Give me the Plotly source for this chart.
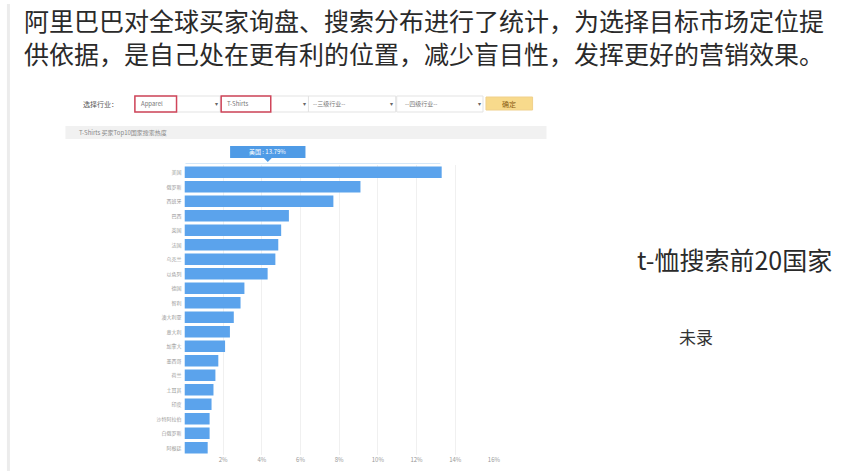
import plotly.graph_objects as go

W, H = 851, 471

countries = ["美国", "俄罗斯", "西班牙", "巴西", "英国", "法国", "乌克兰", "以色列", "德国", "智利",
             "澳大利亚", "意大利", "加拿大", "墨西哥", "荷兰", "土耳其", "印度", "沙特阿拉伯", "白俄罗斯", "阿根廷"]
shares = [13.3, 9.1, 7.7, 5.4, 5.0, 4.85, 4.7, 4.3, 3.1, 2.9,
          2.55, 2.35, 2.1, 1.75, 1.6, 1.5, 1.4, 1.3, 1.3, 1.2]
tick_vals = [2, 4, 6, 8, 10, 12, 14, 16]
tick_text = ["2%", "4%", "6%", "8%", "10%", "12%", "14%", "16%"]

title_lines = ["阿里巴巴对全球买家询盘、搜索分布进行了统计，为选择目标市场定位提",
               "供依据，是自己处在更有利的位置，减少盲目性，发挥更好的营销效果。"]
side_title = "t-恤搜索前20国家"
side_note = "未录"

FONT = "Noto Sans CJK SC, Noto Sans, sans-serif"


def px(x):
    return x / W


def py(y):
    return 1 - y / H


fig = go.Figure()
fig.add_trace(go.Bar(
    x=shares, y=countries, orientation="h",
    marker=dict(color="#5ba3ec", line=dict(width=0)),
    hoverinfo="x+y",
))

shapes = []
annotations = []

# left edge strip of the slide
shapes.append(dict(type="line", xref="paper", yref="paper", x0=px(8.5), x1=px(8.5), y0=0, y1=py(4),
                   line=dict(color="#ececec", width=3)))

# header text (two lines)
annotations.append(dict(text="<br>".join(title_lines), xref="paper", yref="paper", x=px(22), y=py(36.5),
                        xanchor="left", yanchor="middle", align="left", showarrow=False,
                        font=dict(family=FONT, size=25, color="#2a2a2a")))

# toolbar of the embedded screenshot
annotations.append(dict(text="选择行业：", xref="paper", yref="paper", x=px(82), y=py(104),
                        xanchor="left", yanchor="middle", showarrow=False,
                        font=dict(family=FONT, size=7, color="#555")))
boxes = [(136, 222), (223, 311), (311, 399), (400, 487)]
for x0, x1 in boxes:
    shapes.append(dict(type="rect", xref="paper", yref="paper", x0=px(x0), x1=px(x1), y0=py(112), y1=py(96),
                       line=dict(color="#e3e3e3", width=1), fillcolor="white"))
    annotations.append(dict(text="▾", xref="paper", yref="paper", x=px(x1 - 4), y=py(104),
                            xanchor="center", yanchor="middle", showarrow=False,
                            font=dict(family=FONT, size=6, color="#666")))
for x0, x1 in [(136, 178), (223, 273)]:
    shapes.append(dict(type="rect", xref="paper", yref="paper", x0=px(x0), x1=px(x1), y0=py(112), y1=py(96),
                       line=dict(color="#d0455a", width=1.5)))
for text, x in [("Apparel", 140), ("T-Shirts", 227), ("--三级行业--", 314), ("--四级行业--", 406)]:
    annotations.append(dict(text=text, xref="paper", yref="paper", x=px(x), y=py(104),
                            xanchor="left", yanchor="middle", showarrow=False,
                            font=dict(family=FONT, size=6, color="#777")))
shapes.append(dict(type="rect", xref="paper", yref="paper", x0=px(490), x1=px(537), y0=py(110), y1=py(97),
                   line=dict(color="#f0d08a", width=1), fillcolor="#f8da8c"))
annotations.append(dict(text="确定", xref="paper", yref="paper", x=px(513), y=py(103.5),
                        xanchor="center", yanchor="middle", showarrow=False,
                        font=dict(family=FONT, size=7, color="#8a5a10")))
shapes.append(dict(type="rect", xref="paper", yref="paper", x0=px(66), x1=px(551), y0=py(139), y1=py(126),
                   line=dict(width=0), fillcolor="#f1f1f1"))
annotations.append(dict(text="T-Shirts 买家Top10国家搜索热度", xref="paper", yref="paper", x=px(78), y=py(132.5),
                        xanchor="left", yanchor="middle", showarrow=False,
                        font=dict(family=FONT, size=6, color="#888")))

# tooltip of the embedded chart
shapes.append(dict(type="rect", xref="paper", yref="paper", x0=px(232), x1=px(308), y0=py(158), y1=py(146),
                   line=dict(width=0), fillcolor="#4f9be6"))
shapes.append(dict(type="path", xref="paper", yref="paper",
                   path=f"M {px(266)} {py(158)} L {px(274)} {py(158)} L {px(270)} {py(162)} Z",
                   line=dict(width=0), fillcolor="#4f9be6"))
annotations.append(dict(text="美国 : 13.79%", xref="paper", yref="paper", x=px(270), y=py(152),
                        xanchor="center", yanchor="middle", showarrow=False,
                        font=dict(family=FONT, size=6, color="white")))
shapes.append(dict(type="line", xref="paper", yref="paper", x0=px(187), x1=px(444), y0=py(163.5), y1=py(163.5),
                   line=dict(color="#d6e8f8", width=1)))

# side texts
annotations.append(dict(text=side_title, xref="paper", yref="paper", x=px(640), y=py(259),
                        xanchor="left", yanchor="middle", showarrow=False,
                        font=dict(family=FONT, size=25, color="#2a2a2a")))
annotations.append(dict(text=side_note, xref="paper", yref="paper", x=px(683), y=py(336),
                        xanchor="left", yanchor="middle", showarrow=False,
                        font=dict(family=FONT, size=17, color="#333")))

fig.update_layout(
    width=W, height=H,
    margin=dict(l=0, r=0, t=0, b=0),
    paper_bgcolor="white", plot_bgcolor="white",
    showlegend=False,
    hovermode=False,
    bargap=0.2,
    font=dict(family=FONT),
    xaxis=dict(domain=[px(186), px(498)], range=[0, 16], tickvals=tick_vals, ticktext=tick_text,
               showgrid=True, gridcolor="#f0f0f0", gridwidth=1, zeroline=False, showline=False,
               tickfont=dict(size=6, color="#999"), anchor="y", ticks=""),
    yaxis=dict(domain=[py(455), py(165)], autorange="reversed", showgrid=False, zeroline=False,
               showline=False, tickfont=dict(size=5, color="#999"), ticks="", ticklabelstandoff=2),
    shapes=shapes,
    annotations=annotations,
)

fig.write_html("out.html", config={"displayModeBar": False},
               post_script="document.body.style.margin='0';")
